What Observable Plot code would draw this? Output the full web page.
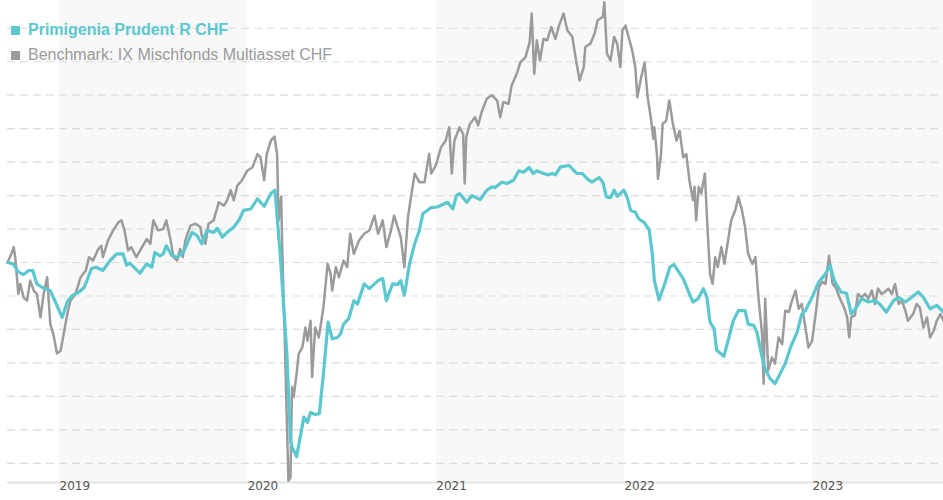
<!DOCTYPE html>
<html>
<head>
<meta charset="utf-8">
<script src="https://cdn.jsdelivr.net/npm/d3@7"></script>
<script src="https://cdn.jsdelivr.net/npm/@observablehq/plot@0.6"></script>
<style>
  body { margin: 0; background: #fff; }
  #wrap { position: relative; width: 943px; height: 500px; overflow: hidden; }
  #legend { position: absolute; left: 11px; top: 17px; font-family: "Liberation Sans", Arial, sans-serif; font-size: 16px; line-height: 25px; white-space: nowrap; }
  .sw { display: inline-block; width: 9px; height: 9px; margin-right: 8px; vertical-align: baseline; }
  .l1 { color: #5bc7cf; font-weight: bold; }
  .l2 { color: #9a9a9a; }
</style>
</head>
<body>
<div id="wrap">
  <div id="chart"></div>
  <div id="legend"></div>
</div>
<script>
// ---- Data (performance in %) ----
const seriesNames = ["Primigenia Prudent R CHF", "Benchmark: IX Mischfonds Multiasset CHF"];

const fundSeries = [
["2018-09-22",0],["2018-10-03",-0.2],["2018-10-13",-1.4],["2018-10-23",-1.8],["2018-11-02",-1.2],["2018-11-10",-1.2],
["2018-11-18",-3.2],["2018-11-28",-3.7],["2018-12-04",-3.9],["2018-12-14",-4.2],["2018-12-24",-5.9],["2019-01-06",-8.2],
["2019-01-16",-5.9],["2019-01-26",-4.9],["2019-02-08",-4.4],["2019-02-18",-3.7],["2019-02-27",-1.9],["2019-03-04",-0.9],
["2019-03-13",-0.7],["2019-03-26",-1.2],["2019-04-09",0.3],["2019-04-22",1.3],["2019-05-04",1.3],["2019-05-11",-0.4],
["2019-05-17",-0.1],["2019-06-06",-1.6],["2019-06-19",-0.2],["2019-06-29",-0.7],["2019-07-05",1.5],["2019-07-15",1.0],
["2019-07-21",1.3],["2019-07-27",2.5],["2019-08-07",1.0],["2019-08-17",0.8],["2019-08-29",1.5],["2019-09-15",4.5],
["2019-09-25",4.0],["2019-10-04",2.8],["2019-10-14",4.8],["2019-10-27",4.5],["2019-11-03",5.1],["2019-11-13",3.8],
["2019-11-22",4.5],["2019-12-05",5.3],["2019-12-15",6.3],["2019-12-24",7.8],["2020-01-07",8.0],["2020-01-20",9.5],
["2020-02-02",8.4],["2020-02-15",10.3],["2020-02-23",10.8],["2020-03-04",1.3],["2020-03-17",-13.6],["2020-03-24",-26.6],
["2020-03-27",-27.6],["2020-04-05",-29.0],["2020-04-13",-25.6],["2020-04-19",-23.1],["2020-04-26",-23.9],["2020-05-02",-22.4],
["2020-05-11",-22.7],["2020-05-19",-22.6],["2020-05-27",-16.6],["2020-06-05",-8.9],["2020-06-13",-11.4],["2020-06-23",-11.2],
["2020-06-29",-10.7],["2020-07-05",-9.2],["2020-07-15",-8.4],["2020-07-25",-5.7],["2020-08-01",-6.2],["2020-08-14",-3.2],
["2020-08-24",-3.9],["2020-09-10",-2.7],["2020-09-19",-2.4],["2020-09-26",-5.7],["2020-10-08",-3.2],["2020-10-18",-3.3],
["2020-10-24",-2.7],["2020-10-31",-4.9],["2020-11-10",-0.2],["2020-11-20",2.8],["2020-11-29",4.8],["2020-12-06",7.3],
["2020-12-15",7.8],["2020-12-22",8.2],["2021-01-03",8.3],["2021-01-23",9.0],["2021-02-02",8.0],["2021-02-09",10.0],
["2021-02-15",10.3],["2021-03-01",9.0],["2021-03-11",10.0],["2021-03-27",9.4],["2021-04-09",10.8],["2021-04-19",11.3],
["2021-04-25",11.2],["2021-05-08",12.0],["2021-05-18",11.8],["2021-05-31",12.3],["2021-06-10",13.7],["2021-06-19",13.5],
["2021-06-30",14.2],["2021-07-08",13.3],["2021-07-15",13.7],["2021-07-28",13.3],["2021-08-07",13.1],["2021-08-14",13.3],
["2021-08-20",13.1],["2021-08-30",14.3],["2021-09-16",14.5],["2021-09-25",13.7],["2021-10-01",13.3],["2021-10-11",13.3],
["2021-10-21",12.5],["2021-10-30",12.0],["2021-11-13",12.7],["2021-11-20",12.0],["2021-11-27",9.8],["2021-12-05",9.7],
["2021-12-12",10.8],["2021-12-18",9.9],["2021-12-31",10.8],["2022-01-06",9.8],["2022-01-13",7.8],["2022-01-22",7.5],
["2022-01-29",6.5],["2022-02-08",6.0],["2022-02-18",4.9],["2022-02-24",1.3],["2022-02-28",-2.7],["2022-03-09",-5.6],
["2022-03-20",-3.2],["2022-03-30",-0.7],["2022-04-07",-0.3],["2022-04-18",-1.6],["2022-04-25",-2.4],["2022-05-07",-4.7],
["2022-05-14",-5.9],["2022-05-24",-5.4],["2022-06-03",-3.9],["2022-06-10",-5.2],["2022-06-16",-8.9],["2022-06-24",-9.9],
["2022-06-29",-13.1],["2022-07-13",-14.0],["2022-07-21",-11.7],["2022-07-31",-8.7],["2022-08-10",-7.2],["2022-08-23",-7.2],
["2022-08-29",-9.2],["2022-09-09",-9.4],["2022-09-15",-10.4],["2022-09-25",-14.2],["2022-10-01",-15.9],["2022-10-11",-17.4],
["2022-10-20",-18.1],["2022-10-30",-16.6],["2022-11-09",-15.1],["2022-11-19",-12.7],["2022-12-02",-10.4],["2022-12-11",-7.7],
["2022-12-18",-7.2],["2022-12-31",-5.2],["2023-01-13",-2.9],["2023-01-26",-1.7],["2023-02-04",-0.4],["2023-02-12",-2.7],
["2023-02-25",-4.4],["2023-03-08",-4.6],["2023-03-17",-7.7],["2023-03-27",-6.7],["2023-04-06",-5.4],["2023-04-19",-5.9],
["2023-05-02",-5.7],["2023-05-11",-6.2],["2023-05-24",-7.4],["2023-06-07",-5.7],["2023-06-17",-5.2],["2023-06-30",-5.9],
["2023-07-12",-5.2],["2023-07-25",-4.4],["2023-08-04",-5.2],["2023-08-17",-6.9],["2023-08-30",-6.4],["2023-09-12",-7.4]
];

const benchSeries = [
["2018-09-22",0],["2018-09-28",1.0],["2018-10-04",2.3],["2018-10-07",0.8],["2018-10-13",-4.7],["2018-10-17",-3.2],
["2018-10-23",-5.2],["2018-10-30",-5.7],["2018-11-05",-2.7],["2018-11-12",-4.2],["2018-11-18",-4.7],["2018-11-25",-8.2],
["2018-12-01",-4.7],["2018-12-08",-2.2],["2018-12-14",-9.2],["2018-12-20",-10.7],["2018-12-27",-13.6],["2019-01-03",-13.2],
["2019-01-09",-10.7],["2019-01-16",-7.7],["2019-01-22",-5.7],["2019-02-01",-4.7],["2019-02-11",-2.2],["2019-02-21",-1.2],
["2019-02-27",0.8],["2019-03-07",0.3],["2019-03-17",2.0],["2019-03-23",2.5],["2019-03-26",0.8],["2019-04-05",3.3],
["2019-04-15",4.8],["2019-04-25",6.0],["2019-05-01",6.3],["2019-05-07",4.8],["2019-05-14",1.8],["2019-05-20",2.3],
["2019-05-30",0.8],["2019-06-10",2.3],["2019-06-19",3.5],["2019-06-26",2.8],["2019-07-02",6.3],["2019-07-11",4.8],
["2019-07-21",5.0],["2019-07-27",6.3],["2019-08-04",3.5],["2019-08-10",0.8],["2019-08-17",0.3],["2019-08-23",2.0],
["2019-08-28",0.8],["2019-09-02",3.3],["2019-09-12",5.5],["2019-09-22",5.8],["2019-10-01",5.3],["2019-10-04",4.0],
["2019-10-11",2.8],["2019-10-17",5.8],["2019-10-27",6.3],["2019-11-06",9.0],["2019-11-16",8.5],["2019-11-22",9.3],
["2019-11-29",10.8],["2019-12-05",9.3],["2019-12-12",11.5],["2019-12-21",12.3],["2019-12-31",13.7],["2020-01-10",14.2],
["2020-01-20",16.2],["2020-01-26",15.7],["2020-02-02",12.3],["2020-02-07",16.2],["2020-02-15",18.2],["2020-02-22",18.8],
["2020-02-27",16.2],["2020-03-01",6.3],["2020-03-06",9.8],["2020-03-08",2.3],["2020-03-12",-8.7],["2020-03-17",-23.6],
["2020-03-20",-32.6],["2020-03-24",-32.1],["2020-03-27",-18.6],["2020-03-30",-20.1],["2020-04-05",-16.6],["2020-04-09",-13.6],
["2020-04-16",-12.7],["2020-04-22",-9.7],["2020-04-26",-11.7],["2020-05-02",-8.7],["2020-05-05",-17.1],["2020-05-11",-9.7],
["2020-05-18",-11.2],["2020-05-21",-9.7],["2020-05-24",-8.2],["2020-05-27",-6.7],["2020-06-04",-0.2],["2020-06-10",-1.7],
["2020-06-13",-4.2],["2020-06-20",-0.7],["2020-06-26",-2.2],["2020-07-05",0.3],["2020-07-12",-0.7],["2020-07-18",4.3],
["2020-07-25",1.3],["2020-08-04",3.3],["2020-08-14",4.3],["2020-08-24",4.8],["2020-09-03",7.0],["2020-09-10",4.3],
["2020-09-19",6.3],["2020-09-26",2.3],["2020-10-05",4.8],["2020-10-11",7.0],["2020-10-18",5.3],["2020-10-24",3.8],
["2020-10-31",-0.7],["2020-11-07",6.8],["2020-11-13",9.8],["2020-11-20",13.3],["2020-11-29",12.0],["2020-12-09",12.0],
["2020-12-18",16.2],["2020-12-22",13.3],["2020-12-31",14.5],["2021-01-10",17.2],["2021-01-19",18.2],["2021-01-26",20.2],
["2021-01-31",13.3],["2021-02-05",18.2],["2021-02-15",20.2],["2021-02-22",19.2],["2021-02-25",11.8],["2021-02-28",18.7],
["2021-03-07",20.7],["2021-03-17",21.7],["2021-03-23",20.5],["2021-03-30",22.5],["2021-04-09",24.5],["2021-04-19",25.0],
["2021-04-29",24.2],["2021-05-05",21.7],["2021-05-11",24.0],["2021-05-21",23.7],["2021-05-27",26.4],["2021-06-07",28.4],
["2021-06-13",29.9],["2021-06-23",30.7],["2021-07-01",32.9],["2021-07-05",37.2],["2021-07-10",28.2],["2021-07-15",33.2],
["2021-07-21",30.2],["2021-07-28",33.4],["2021-08-04",33.2],["2021-08-12",35.2],["2021-08-20",33.4],["2021-08-27",35.4],
["2021-09-05",37.2],["2021-09-12",34.7],["2021-09-22",33.7],["2021-09-28",30.7],["2021-10-06",27.2],["2021-10-14",29.2],
["2021-10-17",32.2],["2021-10-27",32.7],["2021-11-04",34.2],["2021-11-10",36.2],["2021-11-20",36.7],["2021-11-23",38.9],
["2021-11-28",31.2],["2021-12-05",30.2],["2021-12-12",33.7],["2021-12-18",32.7],["2021-12-24",29.2],["2021-12-28",34.7],
["2022-01-03",35.4],["2022-01-09",33.7],["2022-01-16",31.7],["2022-01-22",29.2],["2022-01-26",24.7],["2022-02-02",27.5],
["2022-02-09",29.9],["2022-02-15",24.7],["2022-02-21",21.7],["2022-02-26",18.5],["2022-02-28",20.2],["2022-03-05",16.2],
["2022-03-07",12.5],["2022-03-13",16.2],["2022-03-16",20.7],["2022-03-23",21.2],["2022-03-29",24.2],["2022-04-05",20.7],
["2022-04-12",18.2],["2022-04-18",19.7],["2022-04-25",15.7],["2022-05-01",16.2],["2022-05-07",12.3],["2022-05-14",9.3],
["2022-05-17",11.3],["2022-05-20",6.3],["2022-05-25",11.3],["2022-05-30",10.3],["2022-06-06",13.3],["2022-06-10",6.8],
["2022-06-16",-1.7],["2022-06-21",-3.2],["2022-06-26",0.8],["2022-07-01",-0.7],["2022-07-08",2.3],["2022-07-14",-0.2],
["2022-07-21",3.3],["2022-07-27",6.3],["2022-08-04",7.8],["2022-08-10",9.8],["2022-08-17",7.8],["2022-08-23",5.3],
["2022-08-29",1.3],["2022-09-06",-0.2],["2022-09-12",0.8],["2022-09-18",-5.2],["2022-09-25",-10.7],["2022-09-28",-18.1],
["2022-10-01",-5.4],["2022-10-07",-16.1],["2022-10-14",-14.2],["2022-10-20",-15.1],["2022-10-27",-11.2],["2022-11-03",-12.2],
["2022-11-09",-7.2],["2022-11-16",-7.4],["2022-11-22",-5.7],["2022-11-29",-4.2],["2022-12-05",-6.9],["2022-12-11",-6.2],
["2022-12-18",-9.7],["2022-12-24",-12.7],["2022-12-31",-11.7],["2023-01-07",-7.7],["2023-01-13",-3.7],["2023-01-20",-2.9],
["2023-01-26",-3.2],["2023-02-02",1.0],["2023-02-09",-3.2],["2023-02-15",-3.7],["2023-02-22",-5.2],["2023-02-28",-6.2],
["2023-03-04",-6.9],["2023-03-09",-8.2],["2023-03-13",-11.2],["2023-03-17",-8.2],["2023-03-24",-7.9],["2023-03-30",-4.7],
["2023-04-06",-5.2],["2023-04-13",-4.7],["2023-04-19",-5.4],["2023-04-26",-4.2],["2023-05-02",-6.2],["2023-05-08",-3.9],
["2023-05-15",-4.7],["2023-05-21",-4.4],["2023-05-28",-3.9],["2023-06-04",-4.7],["2023-06-10",-3.2],["2023-06-17",-6.2],
["2023-06-23",-5.7],["2023-06-30",-7.2],["2023-07-05",-8.7],["2023-07-15",-7.7],["2023-07-22",-6.2],["2023-07-28",-6.7],
["2023-08-04",-9.7],["2023-08-11",-8.2],["2023-08-17",-11.2],["2023-08-24",-10.2],["2023-08-30",-8.7],["2023-09-06",-7.7],
["2023-09-12",-8.7]
];

const yearLabels = ["2019", "2020", "2021", "2022", "2023"];
const shadedYears = ["2019", "2021", "2023"];
const gridValues = [-30, -25, -20, -15, -10, -5, 0, 5, 10, 15, 20, 25, 30, 35];
const yMin = -32.87, yMax = 39.15;
const xStart = "2018-09-22", xEnd = "2023-09-12";

const colors = { fund: "#5bc7cf", bench: "#9b9b9b", grid: "#dcdcdc", band: "#f8f8f8", axis: "#e2e2e2", text: "#555555" };

// ---- Build ----
const parse = d3.utcParse("%Y-%m-%d");
const fund = fundSeries.map(([d, v]) => ({ date: parse(d), value: v }));
const bench = benchSeries.map(([d, v]) => ({ date: parse(d), value: v }));
const years = yearLabels.map(y => ({ date: new Date(Date.UTC(+y, 0, 1)), label: y }));
const bands = shadedYears.map(y => ({ x1: new Date(Date.UTC(+y, 0, 1)), x2: new Date(Date.UTC(+y + 1, 0, 1)) }));

const chart = Plot.plot({
  width: 943,
  height: 500,
  marginLeft: 7,
  marginRight: 0,
  marginTop: 0,
  marginBottom: 18,
  style: { background: "white", fontFamily: "DejaVu Sans, sans-serif", fontSize: "12px", overflow: "hidden" },
  x: { type: "utc", domain: [parse(xStart), parse(xEnd)], axis: null },
  y: { domain: [yMin, yMax], axis: null },
  marks: [
    Plot.rect(bands, { x1: "x1", x2: "x2", fill: colors.band, clip: true }),
    Plot.ruleY(gridValues, { stroke: colors.grid, strokeWidth: 1.2, strokeDasharray: "8,5" }),
    Plot.ruleY([yMin], { stroke: colors.axis, strokeWidth: 2 }),
    Plot.line(bench, { x: "date", y: "value", stroke: colors.bench, strokeWidth: 2.5 }),
    Plot.line(fund, { x: "date", y: "value", stroke: colors.fund, strokeWidth: 3.2 }),
    Plot.text(years, { x: "date", text: "label", frameAnchor: "bottom", dy: 7, textAnchor: "start", fill: colors.text, fontSize: 12, style: "letter-spacing:0.5px" })
  ]
});
document.getElementById("chart").appendChild(chart);

const legend = document.getElementById("legend");
legend.innerHTML =
  `<div class="l1"><span class="sw" style="background:${colors.fund}"></span>${seriesNames[0]}</div>` +
  `<div class="l2"><span class="sw" style="background:${colors.bench}"></span>${seriesNames[1]}</div>`;
</script>
</body>
</html>
